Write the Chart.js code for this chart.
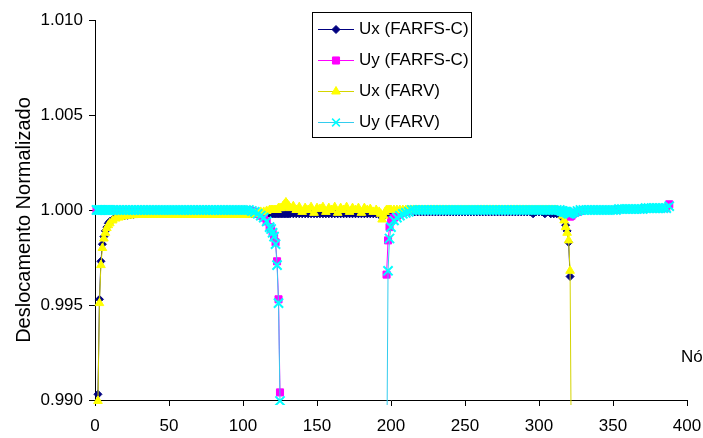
<!DOCTYPE html>
<html>
<head>
<meta charset="utf-8">
<script src="https://cdn.jsdelivr.net/npm/chart.js@4.4.1/dist/chart.umd.min.js"></script>
<style>
  html, body { margin: 0; padding: 0; background: #fff; }
  #wrap { width: 703px; height: 438px; }
</style>
</head>
<body>
<div id="wrap"><canvas id="chart" width="703" height="438"></canvas></div>
<script>
// node numbers along the boundary (every node near the corners, every 2nd elsewhere)
const nodes = [
  1, 2, 3, 4, 5, 6, 7, 8, 9, 10,
  12, 14, 16, 18, 20, 22, 24, 26, 28, 30,
  32, 34, 36, 38, 40, 42, 44, 46, 48, 50,
  52, 54, 56, 58, 60, 62, 64, 66, 68, 70,
  72, 74, 76, 78, 80, 82, 84, 86, 88, 90,
  92, 94, 96, 98, 100, 102, 104,
  106, 108, 110, 112, 114, 116, 118, 119, 120, 121, 122, 123, 124, 125,
  126, 127, 128, 129, 130, 131, 132,
  134, 136, 138, 140, 142, 144, 146, 148, 150, 152,
  154, 156, 158, 160, 162, 164, 166, 168, 170, 172,
  174, 176, 178, 180, 182, 184, 186, 188,
  190, 192, 193, 194, 195, 196,
  197, 198, 199, 200,
  202, 204, 206, 208, 210, 212,
  214, 216, 218, 220, 222, 224, 226, 228, 230, 232,
  234, 236, 238, 240, 242, 244, 246, 248, 250, 252,
  254, 256, 258, 260, 262, 264, 266, 268, 270, 272,
  274, 276, 278, 280, 282, 284, 286, 288, 290, 292,
  294, 296, 298, 300, 302, 304, 306, 308, 310, 312,
  314, 315, 316, 317, 318, 319, 320, 321, 322,
  323, 324, 326, 328,
  330, 332, 334, 336, 338, 340, 342, 344, 346, 348, 350, 352,
  354, 356, 358, 360, 362, 364, 366, 368, 370,
  372, 374, 376, 378, 380, 382, 384, 386,
  388
];

// Ux (FARFS-C)
const uxFarfsC = [
  null, 0.9903, 0.9953, 0.9973, 0.9982, 0.9986, 0.9989, 0.9991, 0.9993, 0.9994,
  0.9995, 0.9996, 0.99965, 0.9997, 0.9997, 0.99972, 0.99975, 0.99977, 0.9998, 0.9998,
  0.9998, 0.9998, 0.9998, 0.9998, 0.9998, 0.9998, 0.9998, 0.9998, 0.9998, 0.9998,
  0.9998, 0.9998, 0.9998, 0.9998, 0.9998, 0.9998, 0.9998, 0.9998, 0.9998, 0.9998,
  0.9998, 0.9998, 0.9998, 0.9998, 0.9998, 0.9998, 0.9998, 0.9998, 0.9998, 0.9998,
  0.9998, 0.9998, 0.9998, 0.9998, 0.9998, 0.9998, 0.9998,
  0.9998, 0.9998, 0.9998, 0.9998, 0.9998, 0.9998, 0.9998, 0.9998, 0.9998, 0.9998, 0.9998, 0.9998, 0.9998, 0.9998,
  0.9998, 0.9998, 0.9998, 0.9998, 0.9998, 0.9998, 0.9998,
  0.9998, 0.9998, 0.9998, 0.9998, 0.9998, 0.9998, 0.9998, 0.9998, 0.9998, 0.9998,
  0.9998, 0.9998, 0.9998, 0.9998, 0.9998, 0.9998, 0.9998, 0.9998, 0.9998, 0.9998,
  0.9998, 0.9998, 0.9998, 0.9998, 0.9998, 0.9998, 0.9998, 0.9998,
  0.9998, 0.9998, 0.9997, 0.9996, 0.9997, 0.9998,
  0.9998, 0.9998, 0.9998, 0.9998,
  0.9999, 0.9999, 0.9999, 0.9999, 0.9999, 0.9999,
  0.9999, 0.9999, 0.9999, 0.9999, 0.9999, 0.9999, 0.9999, 0.9999, 0.9999, 0.9999,
  0.9999, 0.9999, 0.9999, 0.9999, 0.9999, 0.9999, 0.9999, 0.9999, 0.9999, 0.9999,
  0.9999, 0.9999, 0.9999, 0.9999, 0.9999, 0.9999, 0.9999, 0.9999, 0.9999, 0.9999,
  0.9999, 0.9999, 0.9999, 0.9999, 0.9999, 0.9999, 0.9999, 0.9999, 0.9999, 0.9999,
  0.9999, 0.9998, 0.9999, 0.9999, 0.9999, 0.9998, 0.9999, 0.9998, 0.9998, 0.9998,
  0.99975, 0.9997, 0.99965, 0.9995, 0.9992, 0.9989, 0.9983, 0.9965, null
];

// Uy (FARFS-C)
const uyFarfsC = [
  1.0000, 1.0000, 1.0000, 1.0000, 1.0000, 1.0000, 1.0000, 1.0000, 1.0000, 1.0000,
  1.0000, 1.0000, 1.0000, 1.0000, 1.0000, 1.0000, 1.0000, 1.0000, 1.0000, 1.0000,
  1.0000, 1.0000, 1.0000, 1.0000, 1.0000, 1.0000, 1.0000, 1.0000, 1.0000, 1.0000,
  1.0000, 1.0000, 1.0000, 1.0000, 1.0000, 1.0000, 1.0000, 1.0000, 1.0000, 1.0000,
  1.0000, 1.0000, 1.0000, 1.0000, 1.0000, 1.0000, 1.0000, 1.0000, 1.0000, 1.0000,
  1.0000, 1.0000, 1.0000, 1.0000, 1.0000, 1.0000, 1.0000,
  0.99995, 0.9999, 0.9998, 0.9997, 0.9996, 0.9994, 0.9991, 0.9990, 0.9988, 0.9986, 0.9983, 0.9973, 0.9953, 0.9904,
  null, null, null, null, null, null, null,
  null, null, null, null, null, null, null, null, null, null,
  null, null, null, null, null, null, null, null, null, null,
  null, null, null, null, null, null, null, null,
  null, null, null, null, null, null,
  0.9966, 0.9984, 0.9991, 0.99945,
  0.9996, 0.9997, 0.9998, 0.99985, 0.9999, 0.99995,
  1.0000, 1.0000, 1.0000, 1.0000, 1.0000, 1.0000, 1.0000, 1.0000, 1.0000, 1.0000,
  1.0000, 1.0000, 1.0000, 1.0000, 1.0000, 1.0000, 1.0000, 1.0000, 1.0000, 1.0000,
  1.0000, 1.0000, 1.0000, 1.0000, 1.0000, 1.0000, 1.0000, 1.0000, 1.0000, 1.0000,
  1.0000, 1.0000, 1.0000, 1.0000, 1.0000, 1.0000, 1.0000, 1.0000, 1.0000, 1.0000,
  1.0000, 1.0000, 1.0000, 1.0000, 1.0000, 1.0000, 1.0000, 1.0000, 1.0000, 1.0000,
  0.99995, 0.9999, 0.9999, 0.9998, 0.9998, 0.9997, 0.9997, 0.99965, 0.9997,
  0.9998, 0.99985, 0.9999, 0.99995,
  1.0000, 1.0000, 1.0000, 1.0000, 1.0000, 1.0000, 1.0000, 1.0000, 1.0000, 1.0000, 1.0000, 1.0000,
  1.00005, 1.00005, 1.00005, 1.00005, 1.00005, 1.00005, 1.00005, 1.00005, 1.00005,
  1.0001, 1.0001, 1.0001, 1.0001, 1.0001, 1.0001, 1.0001, 1.0001,
  1.0003
];

// Ux (FARV)
const uxFarv = [
  null, 0.98995, 0.9951, 0.9971, 0.9980, 0.9985, 0.9988, 0.99905, 0.9992, 0.9993,
  0.99945, 0.99955, 0.9996, 0.99965, 0.99968, 0.9997, 0.99972, 0.99973, 0.99975, 0.99975,
  0.99975, 0.99975, 0.99975, 0.99975, 0.99975, 0.99975, 0.99975, 0.99975, 0.99975, 0.99975,
  0.99975, 0.99975, 0.99975, 0.99975, 0.99975, 0.99975, 0.99975, 0.99975, 0.99975, 0.99975,
  0.99975, 0.99975, 0.99975, 0.99975, 0.99975, 0.99975, 0.99975, 0.99975, 0.99975, 0.99975,
  0.99975, 0.99975, 0.99975, 0.99975, 0.99975, 0.99975, 0.99975,
  0.9998, 0.9998, 0.99985, 0.9999, 0.9999, 0.99995, 1.0000, 1.0000, 1.0000, 1.0000, 1.0000, 1.0000, 1.0001, 1.0001,
  1.0001, 1.0002, 1.0003, 1.0004, 1.0003, 1.0002, 1.0001,
  1.0002, 1.0000, 1.00015, 0.9999, 1.0001, 1.0000, 1.00015, 0.99985, 1.0001, 1.00005,
  1.00015, 0.9999, 1.0001, 1.0000, 1.00015, 0.99985, 1.0001, 1.0000, 1.00015, 0.9999,
  1.0001, 1.0000, 1.0001, 0.99985, 1.0001, 1.0000, 1.00005, 0.9999,
  1.0000, 0.9999, 0.9998, 0.9995, 0.9997, 0.9999,
  1.0000, 1.0000, 1.0000, 1.0000,
  1.0000, 1.0000, 1.0000, 1.0000, 1.0000, 1.0000,
  1.0000, 1.0000, 1.0000, 1.0000, 1.0000, 1.0000, 1.0000, 1.0000, 1.0000, 1.0000,
  1.0000, 1.0000, 1.0000, 1.0000, 1.0000, 1.0000, 1.0000, 1.0000, 1.0000, 1.0000,
  1.0000, 1.0000, 1.0000, 1.0000, 1.0000, 1.0000, 1.0000, 1.0000, 1.0000, 1.0000,
  1.0000, 1.0000, 1.0000, 1.0000, 1.0000, 1.0000, 1.0000, 1.0000, 1.0000, 1.0000,
  1.0000, 1.0000, 1.0000, 1.0000, 1.0000, 1.0000, 1.0000, 1.0000, 1.0000, 1.0000,
  0.99995, 0.9999, 0.9997, 0.99945, 0.9991, 0.9988, 0.9984, 0.9968, 0.985
];

// Uy (FARV)
const uyFarv = [
  1.0000, 1.0000, 1.0000, 1.0000, 1.0000, 1.0000, 1.0000, 1.0000, 1.0000, 1.0000,
  1.0000, 1.0000, 1.0000, 1.0000, 1.0000, 1.0000, 1.0000, 1.0000, 1.0000, 1.0000,
  1.0000, 1.0000, 1.0000, 1.0000, 1.0000, 1.0000, 1.0000, 1.0000, 1.0000, 1.0000,
  1.0000, 1.0000, 1.0000, 1.0000, 1.0000, 1.0000, 1.0000, 1.0000, 1.0000, 1.0000,
  1.0000, 1.0000, 1.0000, 1.0000, 1.0000, 1.0000, 1.0000, 1.0000, 1.0000, 1.0000,
  1.0000, 1.0000, 1.0000, 1.0000, 1.0000, 1.0000, 1.0000,
  0.99995, 0.9999, 0.9998, 0.9997, 0.9996, 0.9994, 0.9991, 0.9990, 0.9988, 0.9986, 0.9982, 0.9971, 0.9951, 0.98995,
  null, null, null, null, null, null, null,
  null, null, null, null, null, null, null, null, null, null,
  null, null, null, null, null, null, null, null, null, null,
  null, null, null, null, null, null, null, null,
  null, null, null, null, null, null,
  0.985, 0.9968, 0.9985, 0.9991,
  0.99945, 0.9996, 0.9997, 0.9998, 0.99985, 0.9999,
  1.0000, 1.0000, 1.0000, 1.0000, 1.0000, 1.0000, 1.0000, 1.0000, 1.0000, 1.0000,
  1.0000, 1.0000, 1.0000, 1.0000, 1.0000, 1.0000, 1.0000, 1.0000, 1.0000, 1.0000,
  1.0000, 1.0000, 1.0000, 1.0000, 1.0000, 1.0000, 1.0000, 1.0000, 1.0000, 1.0000,
  1.0000, 1.0000, 1.0000, 1.0000, 1.0000, 1.0000, 1.0000, 1.0000, 1.0000, 1.0000,
  1.0000, 1.0000, 1.0000, 1.0000, 1.0000, 1.0000, 1.0000, 1.0000, 1.0000, 1.0000,
  1.0000, 0.99995, 0.99995, 0.9999, 0.9999, 0.99985, 0.9998, 0.9998, 0.99985,
  0.9999, 0.9999, 0.99995, 1.0000,
  1.0000, 1.0000, 1.0000, 1.0000, 1.0000, 1.0000, 1.0000, 1.0000, 1.0000, 1.0000, 1.0000, 1.0000,
  1.00005, 1.00005, 1.00005, 1.00005, 1.00005, 1.00005, 1.00005, 1.00005, 1.00005,
  1.0001, 1.0001, 1.0001, 1.0001, 1.0001, 1.0001, 1.0001, 1.0001,
  1.0002
];

const xTicksStep = 50;
const yTicksStep = 0.005;

const fontFamily = '"Liberation Sans", Arial, sans-serif';
Chart.defaults.font.family = fontFamily;
Chart.defaults.font.size = 17;
Chart.defaults.color = "#000";

// lines are clipped a few px past the axes like in the original
const clipBox = { left: 10, top: 10, right: 10, bottom: 5 };

// legend box, axis titles
const excelLegend = {
  id: "excelLegend",
  afterDraw(chart) {
    const ctx = chart.ctx;
    ctx.save();
    ctx.fillStyle = "#fff";
    ctx.fillRect(312, 12, 160, 126);
    ctx.strokeStyle = "#000";
    ctx.lineWidth = 1;
    ctx.strokeRect(312.5, 12.5, 159, 125);
    ctx.font = "17px " + fontFamily;
    ctx.textBaseline = "middle";
    ctx.textAlign = "left";
    chart.data.datasets.forEach((ds, i) => {
      const y = 29.5 + i * 31;
      ctx.strokeStyle = ds.borderColor;
      ctx.lineWidth = 1;
      ctx.beginPath();
      ctx.moveTo(318, y);
      ctx.lineTo(354, y);
      ctx.stroke();
      ctx.fillStyle = ds.pointBackgroundColor;
      ctx.strokeStyle = ds.pointBorderColor;
      ctx.lineWidth = Math.min(ds.pointBorderWidth, 1.5);
      Chart.helpers.drawPoint(ctx, {
        pointStyle: ds.pointStyle,
        radius: Math.min(ds.pointRadius, 5.5),
        borderWidth: ctx.lineWidth,
        rotation: 0,
      }, 336, y);
      ctx.fillStyle = "#000";
      ctx.fillText(ds.label, 359, y);
    });

    ctx.fillText("Nó", 681, 357);

    ctx.translate(24, 220);
    ctx.rotate(-Math.PI / 2);
    ctx.textAlign = "center";
    ctx.font = "20px " + fontFamily;
    ctx.fillText("Deslocamento Normalizado", 0, 0);
    ctx.restore();
  },
};

const axisLook = {
  grid: { drawOnChartArea: false, drawTicks: true, tickLength: 6, tickColor: "#000" },
  border: { color: "#000", width: 1 },
};

new Chart(document.getElementById("chart"), {
  type: "line",
  plugins: [excelLegend],
  data: {
    labels: nodes,
    datasets: [
      {
        label: "Ux (FARFS-C)",
        data: uxFarfsC,
        borderColor: "#000080",
        borderWidth: 1,
        pointStyle: "rectRot",
        pointRadius: 4,
        pointBackgroundColor: "#000080",
        pointBorderColor: "#000080",
        pointBorderWidth: 1,
        order: 4,
        clip: clipBox,
      },
      {
        label: "Uy (FARFS-C)",
        data: uyFarfsC,
        borderColor: "#ff00ff",
        borderWidth: 1,
        pointStyle: "rect",
        pointRadius: 5,
        pointBackgroundColor: "#ff00ff",
        pointBorderColor: "#ff00ff",
        pointBorderWidth: 1,
        order: 3,
        clip: clipBox,
      },
      {
        label: "Ux (FARV)",
        data: uxFarv,
        borderColor: "#d4d400",
        borderWidth: 1,
        pointStyle: "triangle",
        pointRadius: 5,
        pointBackgroundColor: "#ffff00",
        pointBorderColor: "#ffff00",
        pointBorderWidth: 1,
        order: 2,
        clip: clipBox,
      },
      {
        label: "Uy (FARV)",
        data: uyFarv,
        borderColor: "#33ccee",
        borderWidth: 1,
        pointStyle: "crossRot",
        pointRadius: 6.5,
        pointBackgroundColor: "#00ffff",
        pointBorderColor: "#00ffff",
        pointBorderWidth: 2,
        order: 1,
        clip: clipBox,
      },
    ],
  },
  options: {
    responsive: false,
    animation: false,
    events: [],
    layout: { padding: { top: 20, right: 16, left: 0, bottom: 0 } },
    elements: { line: { tension: 0 } },
    plugins: {
      legend: { display: false },
      tooltip: { enabled: false },
    },
    scales: {
      x: {
        type: "linear",
        min: 0,
        max: 400,
        ticks: { stepSize: xTicksStep, padding: 10, maxRotation: 0 },
        ...axisLook,
        afterFit: (scale) => {
          scale.height = 38;
          scale.paddingLeft = 0;
          scale.paddingRight = 0;
        },
      },
      y: {
        min: 0.99,
        max: 1.01,
        ticks: {
          stepSize: yTicksStep,
          padding: 6,
          callback: (v) => v.toFixed(3),
        },
        ...axisLook,
        afterFit: (scale) => {
          scale.width = 95;
          scale.paddingTop = 0;
          scale.paddingBottom = 0;
        },
      },
    },
  },
});
</script>
</body>
</html>
